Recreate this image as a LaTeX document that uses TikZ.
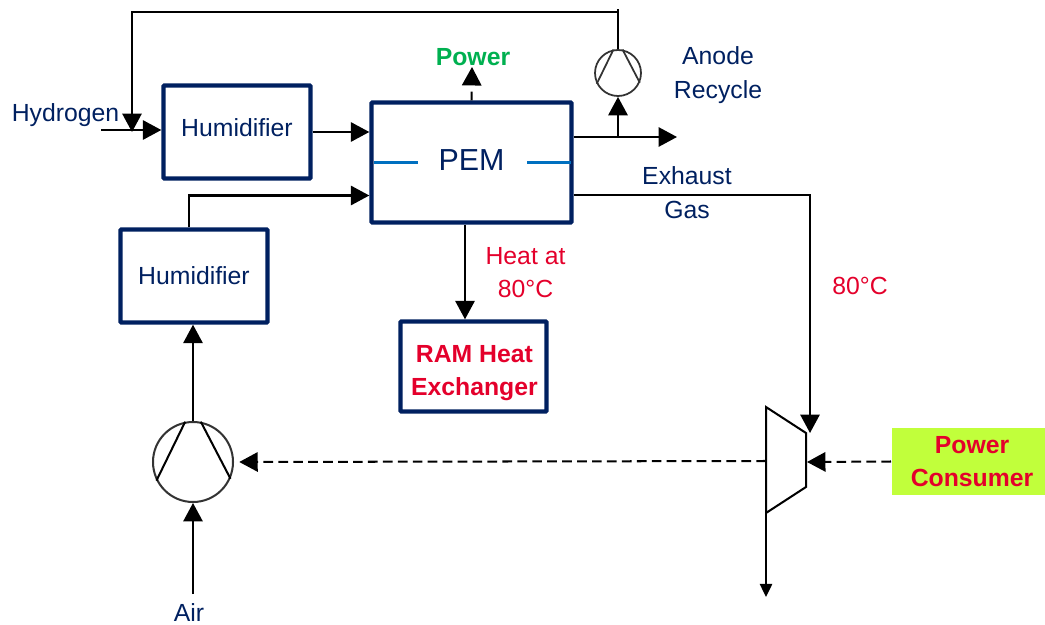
\documentclass[tikz,border=0pt]{standalone}
\usepackage{fontspec}
\setmainfont{Liberation Sans}
\usetikzlibrary{arrows.meta}
\definecolor{navy}{HTML}{002060}
\definecolor{heatred}{HTML}{E4002B}
\definecolor{powergreen}{HTML}{00B050}
\definecolor{tickblue}{HTML}{0070C0}
\definecolor{lime}{HTML}{C1FF3B}

\begin{document}
\begin{tikzpicture}[>={Triangle[length=10.5pt,width=11pt]},line width=1.15pt,
                    every node/.style={font=\fontsize{14.1}{19}\selectfont,align=center,inner sep=0pt},
                    main node/.style={rectangle,draw=navy,line width=2.5pt,rounded corners=0.6pt,text=navy},
                    hum node/.style={main node,minimum width=2.94cm,minimum height=1.86cm},
                    pump node/.style={circle,draw=black!80,line width=1pt},
                    text node/.style={text=navy},
                    hot node/.style={text=heatred},
                    hot box/.style={text=heatred,font=\fontsize{14.1}{19}\selectfont\bfseries},
                    power link/.style={->,dash pattern=on 5.5pt off 3pt}]
  \useasboundingbox (0,0) rectangle (20.9,-12.5);
  % blocks
  \node[hum node,text depth=4.9pt] (hum1) at (4.74,-2.64) {Humidifier};
  \node[hum node] (hum2) at (3.88,-5.52) {Humidifier};
  \node[main node,minimum width=4cm,minimum height=2.4cm,text depth=2.8pt,
        font=\fontsize{17.3}{20}\selectfont] (pem) at (9.43,-3.25) {PEM};
  \node[main node,minimum width=2.92cm,minimum height=1.8cm,
        label={[hot box,yshift=-3.7pt,xshift=0.5pt]center:RAM Heat\\Exchanger}] (ram) at (9.47,-7.33) {};
  \node[fill=lime,minimum width=3.06cm,minimum height=1.34cm,
        label={[hot box,xshift=2pt]center:Power\\Consumer}] (consumer) at (19.37,-9.23) {};
  % pumps
  \node[pump node,minimum size=0.92cm] (recycle) at (12.36,-1.46) {};
  \node[pump node,minimum size=1.6cm,line width=1.15pt] (comp) at (3.86,-9.24) {};
  \draw[black!80,line width=1pt] (recycle.101) -- (recycle.207) (recycle.79) -- (recycle.-24);
  \draw (comp.101) -- (comp.207) (comp.79) -- (comp.-24);
  % turbine
  \coordinate (t1) at (15.32,-8.14);
  \coordinate (t2) at (16.12,-8.66);
  \coordinate (t3) at (16.12,-9.74);
  \coordinate (t4) at (15.32,-10.26);
  \draw (t1) -- (t2) -- (t3) -- (t4) -- cycle;
  % labels
  \node[text node] (hydrogen) at (1.31,-2.3) {Hydrogen};
  \node[text node] (anode) at (14.36,-1.5) {Anode\\Recycle};
  \node[text node] (exhaust) at (13.74,-3.85) {Exhaust\\Gas};
  \node[text node] (air) at (3.78,-12.26) {Air};
  \node[hot node] (heat) at (10.51,-5.45) {Heat at\\80°C};
  \node[hot node] (temp) at (17.2,-5.72) {80°C};
  \node[font=\fontsize{14.1}{19}\selectfont\bfseries,text=powergreen] (power) at (9.46,-1.14) {Power};
  % free ends
  \coordinate (h2in) at (2.02,-2.6);
  \coordinate (airin) at (3.86,-11.88);
  \coordinate (stackout) at (13.54,-2.74);
  \coordinate (turbout) at (15.32,-11.94);
  \coordinate (turbin) at (16.2,-8.66);
  \coordinate (turbw) at (15.32,-9.22);
  \coordinate (turbe) at (16.14,-9.24);
  \coordinate (powertip) at (9.44,-1.34);
  \coordinate (rectop) at (12.36,-0.18);
  \coordinate (recbend) at (12.36,-0.24);
  \coordinate (recdown) at (2.64,-2.64);
  \coordinate (branch) at (12.36,-2.74);
  \coordinate (h2top) at (3.78,-3.91);
  % flows
  \draw[->] (h2in) -- (hum1.west |- h2in);
  \draw (recycle.north) -- (rectop);
  \draw[->] (recbend) -| (recdown);
  \draw[->] (hum1.east) -- (pem.west |- hum1.east);
  \draw[->] (hum2.north -| h2top) -- (h2top) -- (pem.west |- h2top);
  \draw[->,dash pattern=on 5pt off 5pt] (pem.north) -- (powertip);
  \draw[->] (pem.east |- stackout) -- (stackout);
  \draw[->] (branch) -- (recycle.south);
  \draw[->] (pem.east |- 0,-3.9) -| (turbin);
  \draw[->] (pem.south -| 9.3,0) -- (ram.north -| 9.3,0);
  \draw[->] (comp.north) -- (hum2.south -| comp.north);
  \draw[->] (airin) -- (comp.south);
  \draw[->,>={Triangle[length=7.5pt,width=7pt]}] (t4) -- (turbout);
  \draw[power link] (consumer.west) -- (turbe);
  \draw[power link,shorten >=3pt] (turbw) -- (comp.east);
  % stack ticks
  \draw[tickblue,line width=1.2pt] (pem.west) ++(0.1,0) -- ++(0.88,0);
  \draw[tickblue,line width=1.2pt] (pem.east) ++(-0.06,0) -- ++(-0.88,0);
\end{tikzpicture}
\end{document}
